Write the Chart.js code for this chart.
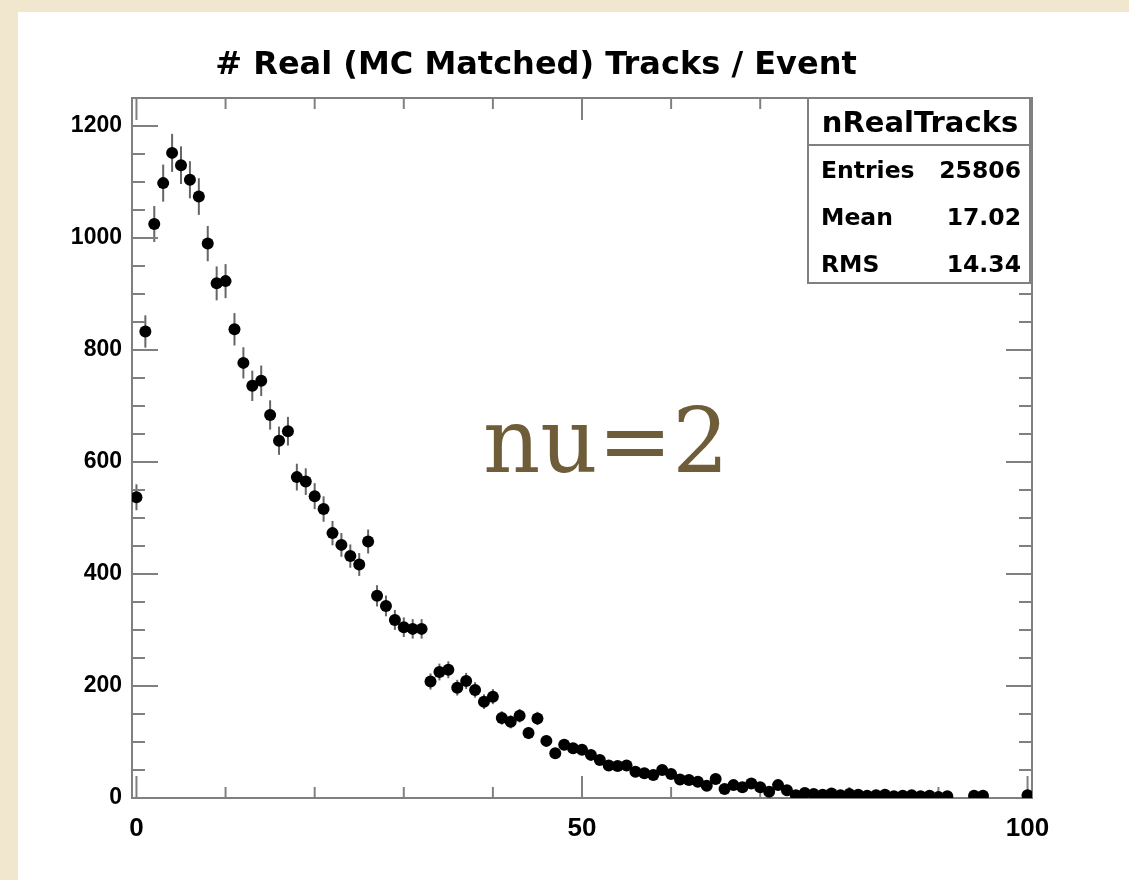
<!DOCTYPE html>
<html>
<head>
<meta charset="utf-8">
<title>nRealTracks</title>
<script src="https://cdn.jsdelivr.net/npm/chart.js@4.4.1/dist/chart.umd.min.js"></script>
<style>
  html, body { margin: 0; padding: 0; }
  body { width: 1129px; height: 880px; background: #f1e7cf; position: relative; overflow: hidden; }
  #panel { position: absolute; left: 18px; top: 12px; right: 0; bottom: 0; background: #fff; }
  #nRealTracks { position: absolute; left: 0; top: 0; }
</style>
</head>
<body>
<div id="panel"></div>
<canvas id="nRealTracks" width="1129" height="880"></canvas>
<script>
const titleText = '# Real (MC Matched) Tracks / Event';
const histName = 'nRealTracks';
const statLabels = ['Entries', 'Mean', 'RMS'];
const statValues = ['25806', '17.02', '14.34'];
const overlayText = 'nu=2';

// bin centres (number of tracks per event)
const nTracks = [
  0, 1, 2, 3, 4, 5, 6, 7, 8, 9, 10, 11, 12, 13, 14, 15, 16, 17, 18, 19,
  20, 21, 22, 23, 24, 25, 26, 27, 28, 29, 30, 31, 32, 33, 34, 35, 36, 37, 38, 39,
  40, 41, 42, 43, 44, 45, 46, 47, 48, 49, 50, 51, 52, 53, 54, 55, 56, 57, 58, 59,
  60, 61, 62, 63, 64, 65, 66, 67, 68, 69, 70, 71, 72, 73, 74, 75, 76, 77, 78, 79,
  80, 81, 82, 83, 84, 85, 86, 87, 88, 89, 90, 91, 92, 93, 94, 95, 96, 97, 98, 99,
  100
];
// events per bin, null = empty bin (not drawn)
const counts = [
  537, 833, 1025, 1098, 1152, 1130, 1104, 1074, 990, 919,
  923, 837, 777, 736, 745, 684, 638, 655, 573, 565,
  539, 516, 473, 452, 432, 417, 458, 361, 343, 318,
  305, 302, 302, 208, 225, 229, 197, 209, 193, 172,
  181, 143, 136, 147, 116, 142, 102, 80, 95, 89,
  86, 77, 68, 58, 57, 58, 47, 44, 41, 50,
  43, 33, 32, 29, 22, 34, 16, 23, 19, 26,
  19, 11, 23, 14, 5, 9, 7, 6, 8, 5,
  7, 6, 4, 5, 6, 3, 4, 5, 3, 4,
  2, 3, null, null, 4, 4, null, null, null, null,
  5
];

const xTickStep = 10;
const xLabelEvery = 50;
const yTickStep = 50;
const yLabelEvery = 200;

function line(ctx, x1, y1, x2, y2) {
  ctx.beginPath();
  ctx.moveTo(x1, y1);
  ctx.lineTo(x2, y2);
  ctx.stroke();
}

const rootFrame = {
  id: 'rootFrame',
  beforeDatasetsDraw(chart) {
    const { ctx, chartArea: a, scales: { x, y } } = chart;
    ctx.save();

    // poisson error bars
    ctx.strokeStyle = '#666';
    ctx.lineWidth = 2;
    counts.forEach((c, i) => {
      if (c === null) return;
      const px = x.getPixelForValue(nTracks[i]);
      const err = Math.sqrt(c);
      line(ctx, px, y.getPixelForValue(c + err), px, y.getPixelForValue(Math.max(c - err, 0)));
    });

    // frame + inward ticks
    ctx.strokeStyle = '#808080';
    ctx.lineWidth = 2;
    ctx.strokeRect(a.left, a.top, a.right - a.left, a.bottom - a.top);
    x.ticks.forEach(t => {
      const px = x.getPixelForValue(t.value);
      const len = t.value % xLabelEvery === 0 ? 22 : 11;
      line(ctx, px, a.bottom, px, a.bottom - len);
      line(ctx, px, a.top, px, a.top + len);
    });
    y.ticks.forEach(t => {
      const py = y.getPixelForValue(t.value);
      const len = t.value % yLabelEvery === 0 ? 26 : 13;
      line(ctx, a.left, py, a.left + len, py);
      line(ctx, a.right, py, a.right - len, py);
    });
    ctx.restore();
  },
  afterDatasetsDraw(chart) {
    const { ctx } = chart;
    ctx.save();

    // title
    ctx.fillStyle = '#000';
    ctx.font = 'bold 32px "DejaVu Sans"';
    ctx.textAlign = 'center';
    ctx.textBaseline = 'alphabetic';
    ctx.fillText(titleText, 536, 74);

    // stats box
    const bx = 808, by = 98, bw = 222, bh = 185;
    ctx.fillStyle = '#fff';
    ctx.fillRect(bx, by, bw, bh);
    ctx.strokeStyle = '#808080';
    ctx.lineWidth = 2;
    ctx.strokeRect(bx, by, bw, bh);
    line(ctx, bx, 145, bx + bw, 145);

    ctx.fillStyle = '#000';
    ctx.font = 'bold 29px "DejaVu Sans"';
    ctx.textAlign = 'center';
    ctx.fillText(histName, bx + bw / 2 + 1, 132);

    ctx.font = 'bold 23.5px "DejaVu Sans"';
    const rowBase = [178, 225, 272];
    statLabels.forEach((lab, i) => {
      ctx.textAlign = 'left';
      ctx.fillText(lab, 821, rowBase[i]);
      ctx.textAlign = 'right';
      ctx.fillText(statValues[i], 1021, rowBase[i]);
    });

    // overlay annotation
    ctx.fillStyle = '#6e5d38';
    ctx.font = '89px "DejaVu Serif"';
    ctx.textAlign = 'left';
    ctx.fillText(overlayText, 483, 472);
    ctx.restore();
  }
};

new Chart(document.getElementById('nRealTracks'), {
  type: 'scatter',
  data: {
    datasets: [{
      label: histName,
      data: nTracks.map((n, i) => ({ x: n, y: counts[i] })),
      pointRadius: 6,
      pointBackgroundColor: '#000',
      pointBorderWidth: 0,
      showLine: false
    }]
  },
  options: {
    responsive: false,
    animation: false,
    layout: { padding: { top: 98, right: 97, left: 0, bottom: 0 } },
    plugins: {
      legend: { display: false },
      tooltip: { enabled: false }
    },
    scales: {
      x: {
        type: 'linear',
        min: -0.5,
        max: 100.5,
        grid: { display: false, drawTicks: false },
        border: { display: false },
        ticks: {
          stepSize: xTickStep,
          includeBounds: false,
          autoSkip: false,
          maxRotation: 0,
          padding: 15,
          color: '#000',
          font: { family: '"Liberation Sans", Arial', size: 26, weight: 'bold' },
          callback: v => (v % xLabelEvery === 0 ? String(v) : '')
        },
        afterFit: s => { s.height = 82; }
      },
      y: {
        type: 'linear',
        min: 0,
        max: 1250,
        grid: { display: false, drawTicks: false },
        border: { display: false },
        ticks: {
          stepSize: yTickStep,
          autoSkip: false,
          padding: 10,
          color: '#000',
          font: { family: '"Liberation Sans", Arial', size: 23, weight: 'bold' },
          callback: v => (v % yLabelEvery === 0 ? String(v) : '')
        },
        afterFit: s => { s.width = 132; }
      }
    }
  },
  plugins: [rootFrame]
});
</script>
</body>
</html>
